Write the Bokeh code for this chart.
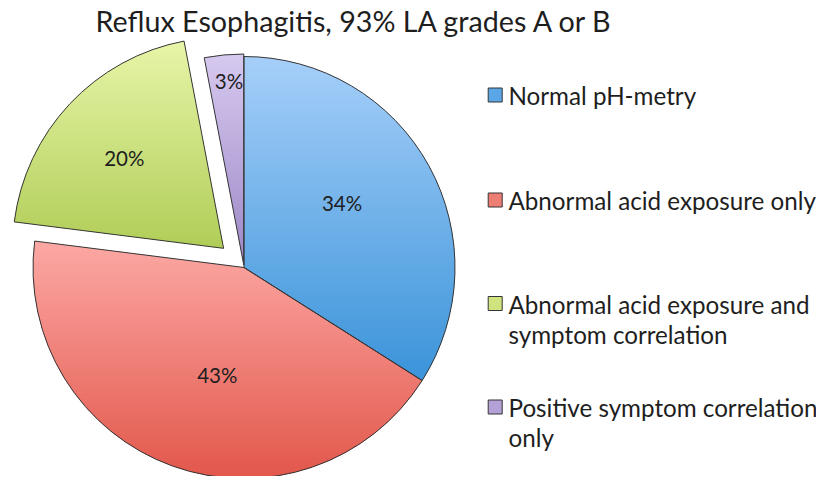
import math
from bokeh.plotting import figure
from bokeh.models import Range1d, ColumnDataSource
from bokeh.core.properties import value
from bokeh.embed import file_html
from bokeh.resources import INLINE

# ---------------- data ----------------
title_text = "Reflux Esophagitis, 93% LA grades A or B"
categories = [
    "Normal pH-metry",
    "Abnormal acid exposure only",
    "Abnormal acid exposure and symptom correlation",
    "Positive symptom correlation only",
]
legend_lines = [
    ["Normal pH-metry"],
    ["Abnormal acid exposure only"],
    ["Abnormal acid exposure and", "symptom correlation"],
    ["Positive symptom correlation", "only"],
]
values = [34, 43, 20, 3]
pct_labels = ["34%", "43%", "20%", "3%"]

# ---------------- styles ----------------
top_colors = ["#a6cff9", "#fca8a4", "#e7f5a8", "#d6c9ef"]
bottom_colors = ["#3a93d9", "#e2574b", "#b0cd57", "#9c87c6"]
legend_colors = ["#5aa6e6", "#ee7d74", "#cfe37f", "#b3a1d8"]
explode = [0.0, 0.0, 28.0, 2.5]
label_frac = [0.555, 0.526, 0.635, 0.877]
label_angle_shift = [4.4, 5.9, 1.0, -0.8]
FONT = "Lato"
TEXT_COLOR = "#1e1e1e"
EDGE = "#353535"

W, H = 816, 476
cx, cy, R = 243.5, H - 267.0, 211.0


def sy(y_screen):
    return H - y_screen


def hex2rgb(h):
    h = h.lstrip("#")
    return tuple(int(h[i:i + 2], 16) for i in (0, 2, 4))


def mix(c0, c1, t):
    a, b = hex2rgb(c0), hex2rgb(c1)
    return "#%02x%02x%02x" % tuple(int(round(a[i] + (b[i] - a[i]) * t)) for i in range(3))


def clip(poly, y0, keep_above):
    out = []
    n = len(poly)
    for i in range(n):
        p, q = poly[i], poly[(i + 1) % n]
        pin = p[1] >= y0 if keep_above else p[1] <= y0
        qin = q[1] >= y0 if keep_above else q[1] <= y0
        if pin:
            out.append(p)
        if pin != qin:
            t = (y0 - p[1]) / (q[1] - p[1])
            out.append((p[0] + t * (q[0] - p[0]), y0))
    return out


p = figure(width=W, height=H, output_backend="svg", toolbar_location=None,
           x_range=Range1d(0, W), y_range=Range1d(0, H),
           x_axis_location=None, y_axis_location=None, min_border=0)
p.grid.visible = False
p.outline_line_color = None
p.background_fill_color = "white"
p.border_fill_color = "white"

total = float(sum(values))
band_xs, band_ys, band_cols = [], [], []
w_x, w_y, w_s, w_e = [], [], [], []
lab_x, lab_y = [], []
start = 90.0
for i, v in enumerate(values):
    sweep = v / total * 360.0
    a0 = start            # upper angle
    a1 = start - sweep    # lower angle (clockwise)
    mid = math.radians((a0 + a1) / 2.0)
    ox = cx + explode[i] * math.cos(mid)
    oy = cy + explode[i] * math.sin(mid)
    w_x.append(ox); w_y.append(oy)
    w_s.append(math.radians(a1)); w_e.append(math.radians(a0))
    la = math.radians((a0 + a1) / 2.0 + label_angle_shift[i])
    lab_x.append(ox + label_frac[i] * R * math.cos(la))
    lab_y.append(oy + label_frac[i] * R * math.sin(la))

    npts = max(4, int(sweep * 1.5))
    poly = [(ox, oy)]
    for k in range(npts + 1):
        a = math.radians(a1 + (a0 - a1) * k / npts)
        poly.append((ox + R * math.cos(a), oy + R * math.sin(a)))
    ytop = max(pt[1] for pt in poly)
    ybot = min(pt[1] for pt in poly)
    hgt = ytop - ybot
    step = 2.0
    nb = int(math.ceil(hgt / step))
    for k in range(nb):
        yhi = ytop - k * step + 0.01
        ylo = ytop - (k + 1) * step - 1.2
        part = clip(poly, yhi, keep_above=False)
        part = clip(part, ylo, keep_above=True) if part else part
        if len(part) < 3:
            continue
        t = min(1.0, (k + 0.5) / nb)
        band_xs.append([q[0] for q in part])
        band_ys.append([q[1] for q in part])
        band_cols.append(mix(top_colors[i], bottom_colors[i], t))
    start = a1

p.patches(xs="xs", ys="ys", fill_color="c", line_color=None,
          source=ColumnDataSource(dict(xs=band_xs, ys=band_ys, c=band_cols)))

p.wedge(x="x", y="y", radius=R, start_angle="s", end_angle="e",
        fill_color=None, line_color=EDGE, line_width=1,
        source=ColumnDataSource(dict(x=w_x, y=w_y, s=w_s, e=w_e)))

p.text(x="x", y="y", text="t", text_align="center", text_baseline="middle",
       text_font=value(FONT), text_font_size="20.5px", text_color=TEXT_COLOR,
       source=ColumnDataSource(dict(x=lab_x, y=lab_y, t=pct_labels)))

# title
p.text(x=[95], y=[sy(20.5)], text=[title_text], text_align="left", text_baseline="middle",
       text_font=value(FONT), text_font_size="28.7px", text_color=TEXT_COLOR)

# legend
entry_centers = [95.0, 200.0, 303.5, 407.0]  # screen px, middle of first line
line_gap = 30.0
lx, ly, lt = [], [], []
mx, my = [], []
for i, lines in enumerate(legend_lines):
    for j, s in enumerate(lines):
        lx.append(508.0); ly.append(sy(entry_centers[i] + j * line_gap)); lt.append(s)
    mx.append(494.7); my.append(sy(entry_centers[i] - 0.5))

p.text(x="x", y="y", text="t", text_align="left", text_baseline="middle",
       text_font=value(FONT), text_font_size="24.2px", text_color=TEXT_COLOR,
       source=ColumnDataSource(dict(x=lx, y=ly, t=lt)))
p.scatter(x="x", y="y", marker="square", size=14, fill_color="c", line_color=EDGE,
          line_width=1, source=ColumnDataSource(dict(x=mx, y=my, c=legend_colors)))

open("out.html", "w").write(file_html(p, INLINE))
